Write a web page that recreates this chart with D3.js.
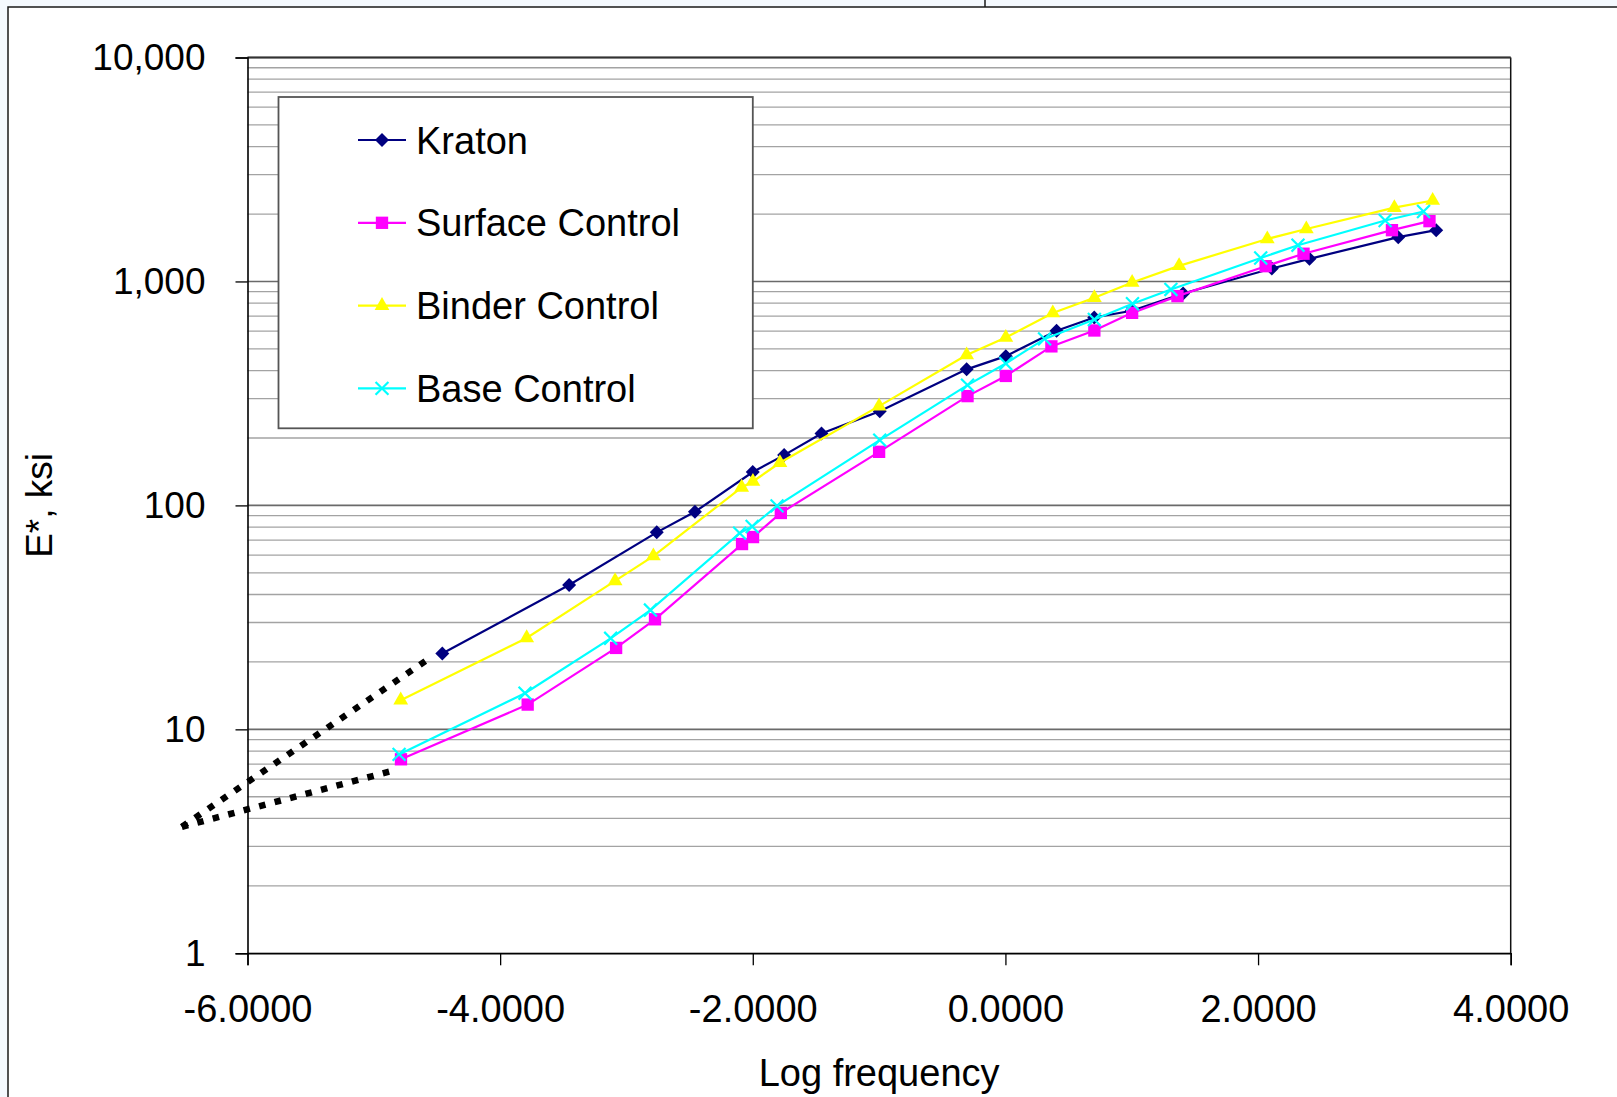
<!DOCTYPE html>
<html>
<head>
<meta charset="utf-8">
<script src="https://cdn.jsdelivr.net/npm/d3@7"></script>
<style>
  html, body { margin: 0; padding: 0; background: #f4f9fe; }
  svg { display: block; }
  text { font-family: "Liberation Sans", Arial, sans-serif; fill: #000; }
</style>
</head>
<body>
<div class="chart"></div>
<script>
// data
const seriesNames = ["Kraton", "Surface Control", "Binder Control", "Base Control"];

const kratonX = [-4.458, -3.454, -2.760, -2.458, -2.000, -1.752, -1.456, -0.995, -0.307, 0.003, 0.405, 0.703, 1.000, 1.407, 2.109, 2.407, 3.110, 3.410];
const kratonY = [21.8, 44.1, 75.8, 93.6, 141, 167.7, 209.6, 263, 405, 464, 602, 690, 740, 884, 1143, 1262, 1577, 1694];

const surfaceX = [-4.785, -3.782, -3.082, -2.774, -2.085, -1.998, -1.778, -1.000, -0.300, 0.003, 0.364, 0.704, 1.003, 1.362, 2.060, 2.360, 3.060, 3.357];
const surfaceY = [7.35, 12.9, 23.1, 31.0, 67.2, 72.2, 92.5, 173.5, 307.6, 378.5, 513, 604, 724, 860, 1170, 1330, 1694, 1859];

const binderX = [-4.787, -3.790, -3.090, -2.787, -2.088, -1.999, -1.785, -1.000, -0.307, 0.003, 0.375, 0.704, 1.003, 1.375, 2.073, 2.382, 3.079, 3.382];
const binderY = [13.5, 25.6, 46.0, 59.4, 120.3, 127.9, 155, 277.5, 469, 562, 723, 845, 990, 1174, 1548, 1715, 2135, 2298];

const baseX = [-4.800, -3.803, -3.125, -2.810, -2.104, -2.005, -1.808, -0.995, -0.300, 0.003, 0.310, 0.704, 1.006, 1.310, 2.021, 2.316, 3.006, 3.310];
const baseY = [7.73, 14.5, 25.5, 34.1, 75.2, 80.5, 99.5, 195.6, 344.4, 430, 554, 676, 795, 921, 1273, 1452, 1872, 2053];

// hand-drawn extrapolation lines (dotted)
const extrapUpperX = [-6.52, -4.59];
const extrapUpperY = [3.67, 20.2];
const extrapLowerX = [-6.52, -4.83];
const extrapLowerY = [3.67, 6.58];

const xTicks = [-6, -4, -2, 0, 2, 4];
const yTicks = [1, 10, 100, 1000, 10000];

const W = 1617, H = 1097;
const plot = { left: 247.5, right: 1510.7, top: 57.5, bottom: 953.3 };

const svg = d3.select('.chart').append('svg')
    .attr('width', W)
    .attr('height', H);

// outer chart frame
svg.append('rect')
    .attr('x', 8).attr('y', 7)
    .attr('width', W + 20).attr('height', H + 20)
    .attr('fill', '#fff')
    .attr('stroke', '#1a1a1a')
    .attr('stroke-width', 1.5);
svg.append('line')
    .attr('x1', 985).attr('x2', 985)
    .attr('y1', 0).attr('y2', 7)
    .attr('stroke', '#1a1a1a')
    .attr('stroke-width', 1.5);

// scales
const xScale = d3.scaleLinear().domain([-6, 4]).range([plot.left, plot.right]);
const yScale = d3.scaleLog().domain([1, 10000]).range([plot.bottom, plot.top]);

const fmtLocale = d3.formatLocale({ decimal: ".", thousands: ",", grouping: [3], currency: ["$", ""], minus: "-" });

// gridlines
const gridVals = yScale.ticks();
svg.append('g')
    .selectAll('line')
    .data(gridVals)
    .join('line')
    .attr('x1', plot.left).attr('x2', plot.right)
    .attr('y1', d => yScale(d)).attr('y2', d => yScale(d))
    .attr('stroke', d => Number.isInteger(Math.log10(d)) ? '#6a6a6a' : '#a3a3a3')
    .attr('stroke-width', d => Number.isInteger(Math.log10(d)) ? 1.6 : 1.3);

// plot border (right + top)
svg.append('line')
    .attr('x1', plot.right).attr('x2', plot.right)
    .attr('y1', plot.top).attr('y2', plot.bottom)
    .attr('stroke', '#111').attr('stroke-width', 1.5);
svg.append('line')
    .attr('x1', plot.left).attr('x2', plot.right)
    .attr('y1', plot.top).attr('y2', plot.top)
    .attr('stroke', '#333').attr('stroke-width', 2);

// axes
const xAxis = d3.axisBottom(xScale)
    .tickValues(xTicks)
    .tickSize(12)
    .tickPadding(30)
    .tickFormat(fmtLocale.format(".4f"));
const xAxis_group = svg.append('g')
    .attr('transform', `translate(0,${plot.bottom})`)
    .call(xAxis);

const yAxis = d3.axisLeft(yScale)
    .tickValues(yTicks)
    .tickSize(12)
    .tickPadding(30)
    .tickFormat(fmtLocale.format(","));
const yAxis_group = svg.append('g')
    .attr('transform', `translate(${plot.left},0)`)
    .call(yAxis);

[xAxis_group, yAxis_group].forEach(g => {
    g.select('.domain').attr('stroke', '#000').attr('stroke-width', 1.6);
    g.selectAll('.tick line').attr('stroke', '#000').attr('stroke-width', 1.3);
    g.selectAll('.tick text')
        .attr('font-family', '"Liberation Sans", Arial, sans-serif')
        .attr('fill', '#000');
});
xAxis_group.selectAll('.tick text').attr('font-size', 38);
yAxis_group.selectAll('.tick text').attr('font-size', 37);

// axis titles
svg.append('text')
    .text('Log frequency')
    .attr('x', (plot.left + plot.right) / 2)
    .attr('y', 1086)
    .attr('text-anchor', 'middle')
    .attr('font-size', 38);

svg.append('text')
    .text('E*, ksi')
    .attr('transform', `translate(52,${(plot.top + plot.bottom) / 2}) rotate(-90)`)
    .attr('text-anchor', 'middle')
    .attr('font-size', 37);

// legend box (drawn before series, as in the original)
const legend = svg.append('g');
legend.append('rect')
    .attr('x', 278.5).attr('y', 97)
    .attr('width', 474.3).attr('height', 331.3)
    .attr('fill', '#fff')
    .attr('stroke', '#555')
    .attr('stroke-width', 1.8);

// series
const symbolPath = {
    diamond: d3.symbol(d3.symbolSquare, 98)(),
    square: d3.symbol(d3.symbolSquare, 152)(),
    triangle: d3.symbol(d3.symbolTriangle, 95)(),
    cross: d3.symbol(d3.symbolX, 110)()
};

const series = [
    { name: seriesNames[0], xs: kratonX, ys: kratonY, color: '#000080', sym: 'diamond' },
    { name: seriesNames[1], xs: surfaceX, ys: surfaceY, color: '#ff00ff', sym: 'square' },
    { name: seriesNames[2], xs: binderX, ys: binderY, color: '#ffff00', sym: 'triangle' },
    { name: seriesNames[3], xs: baseX, ys: baseY, color: '#00ffff', sym: 'cross' }
];

const line = d3.line()
    .x(d => xScale(d[0]))
    .y(d => yScale(d[1]));

function drawMarker(sel, s) {
    const isStroke = s.sym === 'cross';
    sel.attr('d', symbolPath[s.sym])
        .attr('fill', isStroke ? 'none' : s.color)
        .attr('stroke', isStroke ? s.color : 'none')
        .attr('stroke-width', isStroke ? 2.2 : 0);
}

series.forEach(s => {
    const pts = s.xs.map((x, i) => [x, s.ys[i]]);
    const g = svg.append('g');
    g.append('path')
        .datum(pts)
        .attr('d', line)
        .attr('fill', 'none')
        .attr('stroke', s.color)
        .attr('stroke-width', 2.2);
    g.selectAll('path.mk')
        .data(pts)
        .join('path')
        .classed('mk', true)
        .attr('transform', d => `translate(${xScale(d[0])},${yScale(d[1])})` + (s.sym === 'diamond' ? ' rotate(45)' : ''))
        .call(drawMarker, s);
});

// legend entries
series.forEach((s, i) => {
    const cy = 140 + i * 82.8;
    const item = legend.append('g');
    item.append('line')
        .attr('x1', 358).attr('x2', 406)
        .attr('y1', cy).attr('y2', cy)
        .attr('stroke', s.color)
        .attr('stroke-width', 2.2);
    item.append('path')
        .attr('transform', `translate(382,${cy})` + (s.sym === 'diamond' ? ' rotate(45)' : ''))
        .call(drawMarker, s);
    item.append('text')
        .text(s.name)
        .attr('x', 416)
        .attr('y', cy + 13.5)
        .attr('font-size', 38);
});

// dotted extrapolation lines
[[extrapUpperX, extrapUpperY], [extrapLowerX, extrapLowerY]].forEach(([xs, ys]) => {
    svg.append('path')
        .datum(xs.map((x, i) => [x, ys[i]]))
        .attr('d', line)
        .attr('fill', 'none')
        .attr('stroke', '#000')
        .attr('stroke-width', 6.5)
        .attr('stroke-dasharray', '6.5 9.5');
});
</script>
</body>
</html>
